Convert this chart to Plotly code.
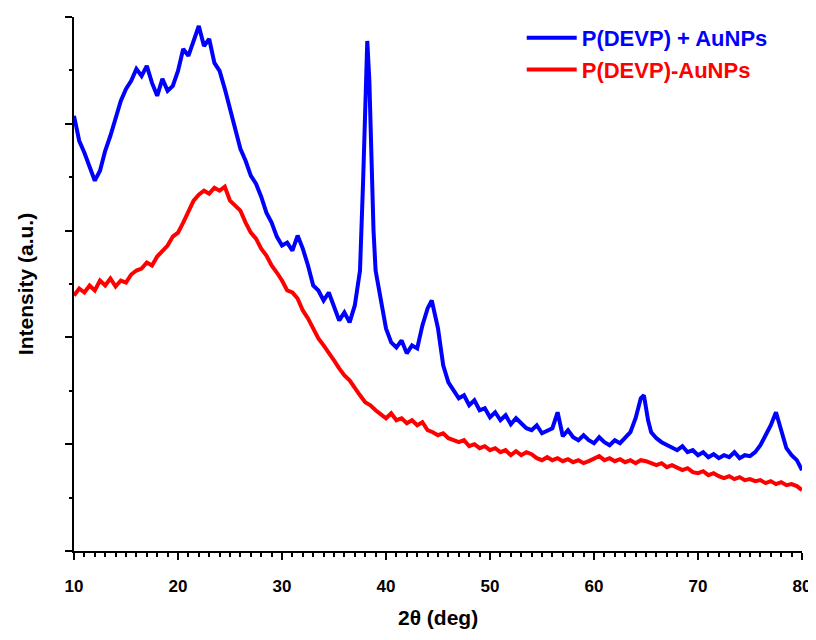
import plotly.graph_objects as go

# 2-theta positions (deg)
two_theta_blue = [
    10.0, 10.5, 11.0, 11.5, 12.0, 12.5, 13.0, 13.5, 14.0, 14.5, 15.0, 15.5, 16.0, 16.5, 17.0, 17.5,
    18.0, 18.5, 19.0, 19.5, 20.0, 20.5, 21.0, 21.5, 22.0, 22.5, 23.0, 23.5, 24.0, 24.5, 25.0, 25.5,
    26.0, 26.5, 27.0, 27.5, 28.0, 28.5, 29.0, 29.5, 30.0, 30.5, 31.0, 31.5, 32.0, 32.5, 33.0, 33.5,
    34.0, 34.5, 35.0, 35.5, 36.0, 36.5, 37.0, 37.5, 37.8, 38.0, 38.2, 38.4, 38.6, 38.8, 39.0, 39.5,
    40.0, 40.5, 41.0, 41.5, 42.0, 42.5, 43.0, 43.5, 44.0, 44.4, 45.0, 45.5, 46.0, 46.5, 47.0, 47.5,
    48.0, 48.5, 49.0, 49.5, 50.0, 50.5, 51.0, 51.5, 52.0, 52.5, 53.0, 53.5, 54.0, 54.5, 55.0, 55.5,
    56.0, 56.5, 57.0, 57.5, 58.0, 58.5, 59.0, 59.5, 60.0, 60.5, 61.0, 61.5, 62.0, 62.5, 63.0, 63.5,
    64.0, 64.5, 64.8, 65.2, 65.5, 66.0, 66.5, 67.0, 67.5, 68.0, 68.5, 69.0, 69.5, 70.0, 70.5, 71.0,
    71.5, 72.0, 72.5, 73.0, 73.5, 74.0, 74.5, 75.0, 75.5, 76.0, 76.5, 77.0, 77.5, 78.0, 78.5, 79.0,
    79.5, 80.0,
]
intensity_blue = [
    436, 411, 399, 386, 371, 381, 401, 416, 433, 451, 463, 471, 483, 476, 486, 469,
    456, 473, 461, 466, 481, 503, 496, 511, 526, 506, 513, 489, 481, 463, 443, 421,
    403, 391, 376, 368, 355, 339, 329, 315, 306, 309, 301, 316, 303, 286, 266, 261,
    251, 259, 246, 231, 239, 229, 246, 281, 371, 461, 511, 471, 391, 321, 281, 251,
    223, 209, 204, 211, 198, 206, 203, 226, 243, 251, 223, 186, 169, 161, 153, 156,
    146, 151, 141, 143, 134, 139, 131, 136, 127, 133, 128, 123, 121, 126, 118, 121,
    123, 139, 115, 121, 114, 111, 116, 111, 108, 114, 109, 106, 111, 108, 113, 119,
    133, 153, 156, 131, 119, 113, 109, 106, 103, 101, 105, 99, 101, 96, 99, 94,
    97, 93, 96, 94, 99, 93, 96, 95, 99, 106, 116, 126, 139, 121, 103, 96,
    91, 81,
]

two_theta_red = [
    10.0, 10.5, 11.0, 11.5, 12.0, 12.5, 13.0, 13.5, 14.0, 14.5, 15.0, 15.5, 16.0, 16.5, 17.0, 17.5,
    18.0, 18.5, 19.0, 19.5, 20.0, 20.5, 21.0, 21.5, 22.0, 22.5, 23.0, 23.5, 24.0, 24.5, 25.0, 25.5,
    26.0, 26.5, 27.0, 27.5, 28.0, 28.5, 29.0, 29.5, 30.0, 30.5, 31.0, 31.5, 32.0, 32.5, 33.0, 33.5,
    34.0, 34.5, 35.0, 35.5, 36.0, 36.5, 37.0, 37.5, 38.0, 38.5, 39.0, 39.5, 40.0, 40.5, 41.0, 41.5,
    42.0, 42.5, 43.0, 43.5, 44.0, 44.5, 45.0, 45.5, 46.0, 46.5, 47.0, 47.5, 48.0, 48.5, 49.0, 49.5,
    50.0, 50.5, 51.0, 51.5, 52.0, 52.5, 53.0, 53.5, 54.0, 54.5, 55.0, 55.5, 56.0, 56.5, 57.0, 57.5,
    58.0, 58.5, 59.0, 59.5, 60.0, 60.5, 61.0, 61.5, 62.0, 62.5, 63.0, 63.5, 64.0, 64.5, 65.0, 65.5,
    66.0, 66.5, 67.0, 67.5, 68.0, 68.5, 69.0, 69.5, 70.0, 70.5, 71.0, 71.5, 72.0, 72.5, 73.0, 73.5,
    74.0, 74.5, 75.0, 75.5, 76.0, 76.5, 77.0, 77.5, 78.0, 78.5, 79.0, 79.5, 80.0,
]
intensity_red = [
    256, 263, 259, 266, 261, 271, 266, 273, 265, 271, 269, 277, 281, 283, 289, 286,
    295, 301, 306, 315, 319, 329, 339, 351, 357, 361, 358, 364, 361, 365, 351, 346,
    341, 329, 319, 313, 303, 296, 286, 279, 271, 261, 259, 253, 241, 233, 223, 213,
    206, 199, 191, 183, 176, 171, 163, 156, 149, 146, 141, 137, 133, 138, 131, 133,
    128, 131, 126, 129, 121, 119, 116, 118, 113, 111, 109, 111, 105, 107, 103, 105,
    101, 103, 99, 101, 96, 100, 96, 99, 97, 93, 91, 94, 91, 93, 90, 92,
    89, 91, 88, 90, 93, 95, 91, 93, 90, 92, 89, 91, 88, 91, 90, 88,
    86, 88, 84, 86, 83, 81, 83, 79, 78, 80, 76, 78, 75, 73, 75, 72,
    74, 71, 72, 70, 71, 68, 70, 67, 69, 66, 67, 65, 61,
]

font_family = "Liberation Sans, Arial, sans-serif"

fig = go.Figure()
fig.add_trace(go.Scatter(
    x=two_theta_blue, y=intensity_blue, mode='lines',
    name='<span style="color:#0000ff"><b>P(DEVP) + AuNPs</b></span>',
    line=dict(color='#0000ff', width=4),
))
fig.add_trace(go.Scatter(
    x=two_theta_red, y=intensity_red, mode='lines',
    name='<span style="color:#ff0000"><b>P(DEVP)-AuNPs</b></span>',
    line=dict(color='#ff0000', width=4),
))

# page body adds ~8px offset, so figure is drawn slightly smaller
fig.update_layout(
    width=808, height=624,
    margin=dict(l=66, r=14, t=9, b=81, autoexpand=False),
    paper_bgcolor='white', plot_bgcolor='white',
    font=dict(family=font_family, color='black'),
    showlegend=True,
    legend=dict(x=0.615, y=1.0, xanchor='left', yanchor='top',
                bgcolor='rgba(0,0,0,0)', font=dict(size=22),
                tracegroupgap=0, itemwidth=50),
)

# x title as annotation so it can sit lower than the axis title allows
fig.add_annotation(
    text='<b>2θ (deg)</b>', xref='paper', yref='paper', x=0.5, y=0,
    xanchor='center', yanchor='middle', yshift=-66, showarrow=False,
    font=dict(size=21, family=font_family, color='black'),
)

fig.update_xaxes(
    range=[10, 80], dtick=10, tick0=10, automargin=False,
    showline=True, linecolor='black', linewidth=2,
    ticks='outside', ticklen=7, tickwidth=2, tickcolor='black',
    minor=dict(dtick=1, ticks='outside', ticklen=4, tickwidth=1.5, tickcolor='black'),
    showgrid=False, zeroline=False,
    tickfont=dict(size=17, family=font_family, weight='bold'),
    ticklabelstandoff=12, ticklabeloverflow='allow',
)
fig.update_yaxes(
    range=[0, 535], dtick=107, tick0=0, automargin=False,
    showline=True, linecolor='black', linewidth=2,
    ticks='outside', ticklen=7, tickwidth=2, tickcolor='black',
    minor=dict(dtick=53.5, ticks='outside', ticklen=3, tickwidth=1.5, tickcolor='black'),
    showticklabels=False, showgrid=False, zeroline=False,
    title=dict(text='<b>Intensity (a.u.)</b>', font=dict(size=21), standoff=26),
)

fig.write_html("out.html")
